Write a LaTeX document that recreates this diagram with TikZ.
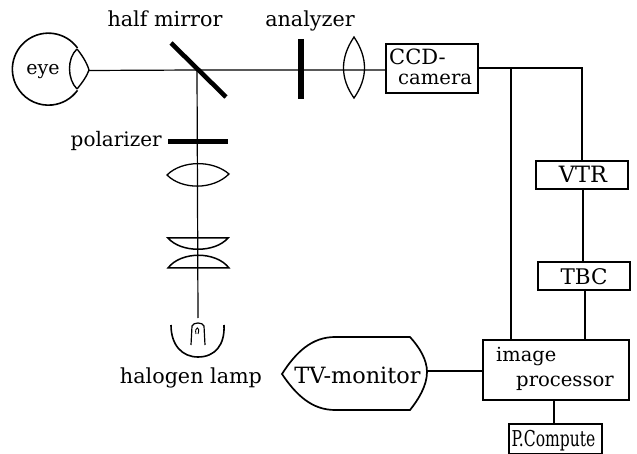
\documentclass[tikz,border=0pt]{standalone}
\usepackage{fontspec}
\usepackage{graphicx}
\setmainfont{DejaVu Serif}
\tikzset{
  x=1pt,y=-1pt,
  wire/.style={line width=1.7pt},
  thinwire/.style={line width=1.2pt},
  heavy/.style={line width=4.6pt},
  boxn/.style={draw,line width=1.7pt,minimum width=#1,inner sep=0pt,anchor=north west},
  txt/.style={inner sep=0pt,font=\fontsize{#1}{22}\selectfont},
  txt/.default=20.7,
  optic/.style={line width=1.3pt}
}
\begin{document}
\begin{tikzpicture}
\useasboundingbox (0,0) rectangle (637,454);
% eye
\draw[line width=1.6pt] (77.5,48) arc[start angle=36,end angle=324,radius=36pt];
\draw[line width=1.4pt] (77,49) .. controls (82,55) and (87,63) .. (89,70) .. controls (87,76) and (82,83) .. (77,89);
\draw[line width=1.4pt] (77,49) .. controls (67,58) and (67,79) .. (77,89);
\coordinate (eyeR) at (89,70.5);
\node[txt=19,anchor=base] (eye) at (43,75) {eye};
% boxes
\node[boxn=92pt,minimum height=49pt] (ccd) at (385,43) {};
\node[boxn=92pt,minimum height=28pt] (vtr) at (535,160) {};
\node[boxn=92pt,minimum height=28pt] (tbc) at (537,261) {};
\node[boxn=146pt,minimum height=60pt] (img) at (482,339) {};
\node[boxn=93pt,minimum height=30pt] (pc) at (508,423) {};
\node[txt=21,anchor=base west] (ccdA) at (389,65) {CCD-};
\node[txt=19.6,anchor=base west] (ccdB) at (398,85) {camera};
\node[txt=22.5,anchor=base] (vtrT) at (583,183) {VTR};
\node[txt=21.5,anchor=base] (tbcT) at (584,284) {TBC};
\node[txt=19.4,anchor=base west] (imgA) at (496,361) {image};
\node[txt=19.6,anchor=base west] (imgB) at (516,386) {processor};
\node[txt=19,anchor=base] (pcT) at (553.5,446) {\scalebox{.82}[1.15]{P.Compute}};
% monitor
\path[draw,line width=1.7pt] (282,374) .. controls (296,352) and (312,337) .. (335,337) -- (410,337) .. controls (420,348) and (427,360) .. (427,372) .. controls (427,386) and (418,400) .. (410,410) -- (335,410) .. controls (312,410) and (296,395) .. (282,374) -- cycle;
\coordinate (monR) at (427,371);
\node[txt=22.4,anchor=base] (mon) at (357.5,383) {TV-monitor};
% labels
\node[txt,anchor=base] (hm) at (165,27) {half mirror};
\node[txt,anchor=base] (an) at (310,27) {analyzer};
\node[txt=20,anchor=base east] (pol) at (162,147) {polarizer};
\node[txt,anchor=base] (hal) at (191,383) {halogen lamp};
% optical axis
\coordinate (mc) at (197,70);
\coordinate (axisEnd) at (198,318);
\draw[thinwire] (eyeR) -- (mc) -- (ccd.west |- mc);
\draw[thinwire] (mc) -- (axisEnd);
% mirror, analyzer, polarizer
\draw[heavy] (171,43) -- (226,97);
\draw[heavy,line width=5.4pt] (301,39) -- (301,99);
\draw[heavy,line width=5pt] (168,142) -- (228,142);
% lenses
\draw[optic] (167,175) .. controls (182,160) and (213,160) .. (229,174) .. controls (213,190) and (182,190) .. (167,175) -- cycle;
\draw[optic] (354,37) .. controls (340,58) and (340,78) .. (354,98) .. controls (368,78) and (368,58) .. (354,37) -- cycle;
\draw[optic,line width=1.5pt] (168,238) -- (228,238) .. controls (215,253) and (181,253) .. (168,238) -- cycle;
\draw[optic,line width=1.5pt] (168,268) -- (229,268) .. controls (216,251) and (181,251) .. (168,268) -- cycle;
% lamp
\draw[line width=1.6pt] (171,325) .. controls (171,345) and (182,357) .. (198,357) .. controls (215,357) and (225,345) .. (224,325);
\draw[line width=1.2pt] (191,345) -- (192,326) .. controls (193,322) and (203,322) .. (204,326) -- (205,345);
\draw[line width=.9pt] (196,334) .. controls (194,326) and (201,326) .. (198,334);
% signal wires
\coordinate (j1) at (511,68);
\coordinate (j2) at (582,68);
\draw[wire] (ccd.east |- j1) -- (j2) -- (j2 |- vtr.north);
\draw[wire] (j1) -- (j1 |- img.north);
\coordinate (vb) at (583,188);
\draw[wire] (vb) -- (vb |- tbc.north);
\coordinate (tb) at (585,289);
\draw[wire] (tb) -- (tb |- img.north);
\draw[wire] (monR) -- (monR -| img.west);
\coordinate (ib) at (554,399);
\draw[wire] (ib) -- (ib |- pc.north);
\end{tikzpicture}
\end{document}
